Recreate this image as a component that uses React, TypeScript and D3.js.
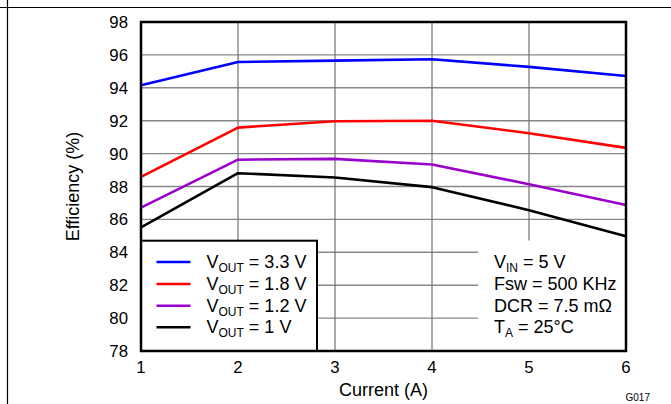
import React from "react";
import * as d3 from "d3";

const currents = [1, 2, 3, 4, 5, 6];
const v33 = [94.15, 95.57, 95.65, 95.74, 95.27, 94.72];
const v18 = [88.58, 91.58, 91.97, 92.0, 91.24, 90.35];
const v12 = [86.72, 89.63, 89.68, 89.34, 88.14, 86.87];
const v10 = [85.52, 88.81, 88.55, 87.96, 86.56, 84.97];
const seriesNames = ["3.3 V", "1.8 V", "1.2 V", "1 V"];
const seriesColors = ["#0000ff", "#ff0000", "#9900cc", "#000000"];
const yTicks = [78, 80, 82, 84, 86, 88, 90, 92, 94, 96, 98];
const xTicks = [1, 2, 3, 4, 5, 6];
const conditions = [
  { main: "V", sub: "IN", rest: " = 5 V" },
  { main: "Fsw = 500 KHz", sub: "", rest: "" },
  { main: "DCR = 7.5 m\u03A9", sub: "", rest: "" },
  { main: "T", sub: "A", rest: " = 25\u00B0C" },
];

export default function App() {
  const W = 671, H = 404;
  const x = d3.scaleLinear().domain([1, 6]).range([141, 626]);
  const y = d3.scaleLinear().domain([78, 98]).range([351, 22]);
  const all = [v33, v18, v12, v10];
  const line = d3
    .line<number>()
    .x((_, i) => x(currents[i]))
    .y((d) => y(d));
  const font = "Liberation Sans, Arial, Helvetica, sans-serif";
  const rowY = [262, 284, 305.7, 327.3];
  return (
    <svg
      width={W}
      height={H}
      style={{ position: "absolute", left: 0, top: 0, background: "#fff" }}
      fontFamily={font}
    >
      <rect x={0} y={0} width={W} height={H} fill="#fff" />
      <line x1={0} x2={W} y1={7.5} y2={7.5} stroke="#000" strokeWidth={1.2} />
      <line x1={7.5} x2={7.5} y1={0} y2={H} stroke="#000" strokeWidth={1.2} />
      {/* grid */}
      {yTicks.slice(1, -1).map((t) => (
        <line key={"gy" + t} x1={x(1)} x2={x(6)} y1={y(t)} y2={y(t)} stroke="#888" strokeWidth={1.4} />
      ))}
      {xTicks.slice(1, -1).map((t) => (
        <line key={"gx" + t} x1={x(t)} x2={x(t)} y1={y(98)} y2={y(78)} stroke="#707070" strokeWidth={1.2} />
      ))}
      {/* series */}
      {all.map((s, i) => (
        <path key={"s" + i} d={line(s) || ""} fill="none" stroke={seriesColors[i]} strokeWidth={2.6} strokeLinejoin="round" />
      ))}
      {/* conditions box (white, no border) */}
      <rect x={478} y={240.5} width={x(6) - 478} height={y(78) - 240.5} fill="#fff" />
      {conditions.map((c, i) => (
        <text key={"c" + i} x={494} y={rowY[i] + 6} fontSize={18} fill="#000">
          {c.main}
          {c.sub && (
            <tspan fontSize={12} dy={4}>
              {c.sub}
            </tspan>
          )}
          {c.rest && <tspan dy={c.sub ? -4 : 0}>{c.rest}</tspan>}
        </text>
      ))}
      {/* legend */}
      <rect x={x(1)} y={240.7} width={317 - x(1)} height={y(78) - 240.7} fill="#fff" stroke="#000" strokeWidth={2} />
      {seriesNames.map((n, i) => (
        <g key={"l" + i}>
          <line x1={156.5} x2={190.5} y1={rowY[i]} y2={rowY[i]} stroke={seriesColors[i]} strokeWidth={2.6} />
          <text x={206.5} y={rowY[i] + 6} fontSize={18} fill="#000">
            V
            <tspan fontSize={12} dy={4}>
              OUT
            </tspan>
            <tspan dy={-4}>{" = " + n}</tspan>
          </text>
        </g>
      ))}
      {/* frame */}
      <rect x={x(1)} y={y(98)} width={x(6) - x(1)} height={y(78) - y(98)} fill="none" stroke="#000" strokeWidth={2.5} />
      {/* y ticks */}
      {yTicks.map((t) => (
        <text key={"yt" + t} x={128} y={y(t) + 6} fontSize={16.8} textAnchor="end" fill="#000">
          {t}
        </text>
      ))}
      {xTicks.map((t) => (
        <text key={"xt" + t} x={x(t)} y={373} fontSize={16.8} textAnchor="middle" fill="#000">
          {t}
        </text>
      ))}
      <text x={x(3.5)} y={396} fontSize={18} textAnchor="middle" fill="#000">
        Current (A)
      </text>
      <text
        transform={`translate(79, ${(y(98) + y(78)) / 2}) rotate(-90)`}
        fontSize={18}
        textAnchor="middle"
        fill="#000"
      >
        Efficiency (%)
      </text>
      <text x={650} y={401} fontSize={10} textAnchor="end" fill="#000">
        G017
      </text>
    </svg>
  );
}
